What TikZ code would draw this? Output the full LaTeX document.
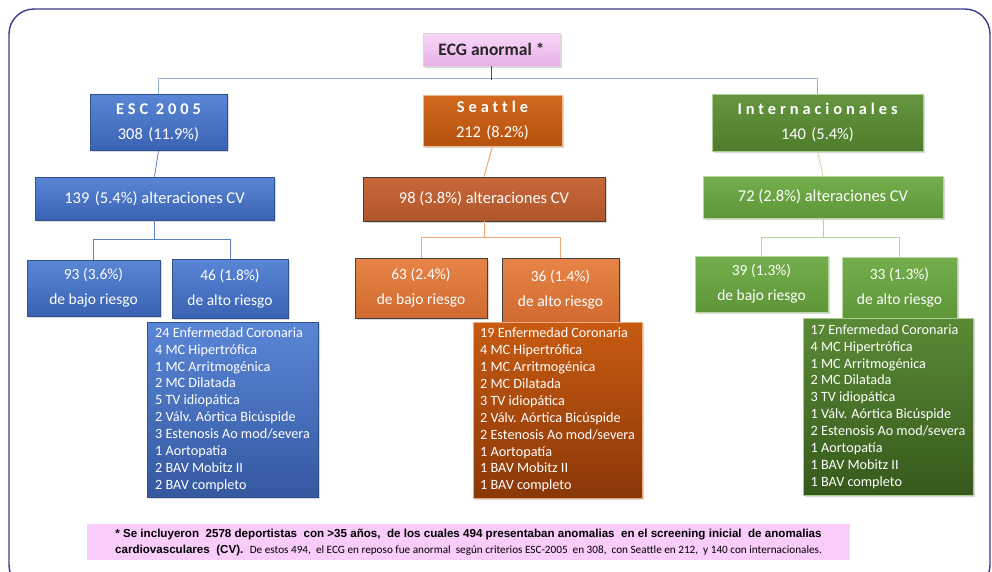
\documentclass[tikz,border=0pt]{standalone}
\usepackage{fontspec}
\setmainfont{Carlito}
\newfontfamily\spacedfont[LetterSpace=24,Ligatures={NoCommon}]{Carlito}
\newfontfamily\footfont{Liberation Sans}
\usetikzlibrary{shadows}
\definecolor{frame}{HTML}{3C3C8C}
\definecolor{pinkA}{HTML}{F8D8F8}
\definecolor{pinkB}{HTML}{E8B0E8}
\definecolor{foot}{HTML}{F9CCF9}
\definecolor{bluA}{HTML}{5A86D6}
\definecolor{bluB}{HTML}{3A62B2}
\definecolor{bluD}{HTML}{2F528F}
\definecolor{bluL}{HTML}{5B7FC7}
\definecolor{topL}{HTML}{9BB0D8}
\definecolor{orA}{HTML}{D2691E}
\definecolor{orB}{HTML}{B5520E}
\definecolor{orC}{HTML}{C8683A}
\definecolor{orC2}{HTML}{B0552A}
\definecolor{orE}{HTML}{E88448}
\definecolor{orE2}{HTML}{D06A30}
\definecolor{orF}{HTML}{C85A12}
\definecolor{orF2}{HTML}{8A3808}
\definecolor{orL}{HTML}{F0A878}
\definecolor{grA}{HTML}{65963F}
\definecolor{grB}{HTML}{4E7C2C}
\definecolor{grC}{HTML}{74AE4C}
\definecolor{grC2}{HTML}{5E9638}
\definecolor{grF}{HTML}{5A8A36}
\definecolor{grF2}{HTML}{36591C}
\definecolor{grL}{HTML}{B5D69A}
\definecolor{grL2}{HTML}{C8E2B6}
\tikzset{
  box/.style={draw, line width=0.8pt, align=center, text=white, inner sep=0pt,
    drop shadow={opacity=0.3, shadow xshift=1.5pt, shadow yshift=-1.5pt}},
  titlefont/.style={font=\fontsize{16.4}{25}\selectfont},
  cvfont/.style={font=\fontsize{16.5}{18}\selectfont},
  riskfont/.style={font=\fontsize{15.5}{25}\selectfont},
  listfont/.style={font=\fontsize{14.2}{16.9}\selectfont, align=left},
  bluebox/.style={box, draw=bluD, top color=bluA, bottom color=bluB},
  bluelist/.style={box, draw=bluD, top color=bluA, bottom color=bluB!90!black},
  orangetitle/.style={box, draw=orE!60!white, top color=orA, bottom color=orB},
  orangecv/.style={box, draw=black!75, top color=orC, bottom color=orC2},
  orangerisk/.style={box, draw=black!75, top color=orE, bottom color=orE2},
  orangelist/.style={box, draw=orE!70!white, top color=orF, bottom color=orF2},
  greentitle/.style={box, draw=grC!60!white, top color=grA, bottom color=grB},
  greencv/.style={box, draw=grC!50!white, top color=grC, bottom color=grC2},
  greenrisk/.style={box, draw=grC!50!white, top color=grC, bottom color=grC2},
  greenlist/.style={box, draw=grC!60!white, top color=grF, bottom color=grF2},
  bline/.style={draw=bluL, line width=0.8pt},
  oline/.style={draw=orL, line width=1pt},
  gline/.style={draw=grL, line width=1pt},
}
\begin{document}
\begin{tikzpicture}[x=1pt,y=-1pt]
\useasboundingbox (0,0) rectangle (992,571);
\clip (0,0) rectangle (992,571);
\fill[white] (0,0) rectangle (992,571);
\draw[frame, line width=1.4pt, rounded corners=25pt] (9,9) rectangle (990,590);

% top
\node[box, draw=pinkB!80!black!40, top color=pinkA, bottom color=pinkB, text=black!85,
  minimum width=137pt, minimum height=33pt, font=\fontsize{17.5}{20}\selectfont\bfseries]
  (ecg) at (491.5,49.5) {ECG anormal *};

% ESC
\node[bluebox, titlefont, minimum width=137pt, minimum height=56pt] (esc) at (158.5,122.5)
  {{\spacedfont\bfseries ESC 2005}\\308\,\,(11.9\%)};
\node[bluebox, cvfont, minimum width=239pt, minimum height=43pt] (esccv) at (154.5,198.5)
  {139\,\,(5.4\%) alteraciones CV};
\node[bluebox, riskfont, minimum width=133pt, minimum height=56pt] (escb) at (93.5,288)
  {93 (3.6\%)\\de bajo riesgo};
\node[bluebox, riskfont, minimum width=116pt, minimum height=59pt] (esca) at (230,288.5)
  {46 (1.8\%)\\de alto riesgo};
\node[bluelist, listfont, minimum width=171pt, minimum height=175pt] (escl) at (232.5,409.5)
  {24 Enfermedad Coronaria\\4 MC Hipertrófica\\1 MC Arritmogénica\\2 MC Dilatada\\5 TV idiopática\\2 Válv. Aórtica Bicúspide\\3 Estenosis Ao mod/severa\\1 Aortopatía\\2 BAV Mobitz II\\2 BAV completo};

% Seattle
\node[orangetitle, titlefont, minimum width=139pt, minimum height=51pt] (sea) at (492.5,120.5)
  {{\spacedfont\bfseries Seattle}\\212\,\,(8.2\%)};
\node[orangecv, cvfont, minimum width=242pt, minimum height=44pt] (seacv) at (484,199)
  {98 (3.8\%) alteraciones CV};
\node[orangerisk, riskfont, minimum width=132pt, minimum height=60pt] (seab) at (421,288)
  {63 (2.4\%)\\de bajo riesgo};
\node[orangerisk, riskfont, minimum width=117pt, minimum height=64pt] (seaa) at (560.5,290)
  {36 (1.4\%)\\de alto riesgo};
\node[orangelist, listfont, minimum width=169pt, minimum height=176pt] (seal) at (557.5,410)
  {19 Enfermedad Coronaria\\4 MC Hipertrófica\\1 MC Arritmogénica\\2 MC Dilatada\\3 TV idiopática\\2 Válv. Aórtica Bicúspide\\2 Estenosis Ao mod/severa\\1 Aortopatía\\1 BAV Mobitz II\\1 BAV completo};

% Internacionales
\node[greentitle, titlefont, minimum width=211pt, minimum height=57pt] (int) at (817.5,122.5)
  {{\spacedfont\bfseries Internacionales}\\140\,\,(5.4\%)};
\node[greencv, cvfont, minimum width=240pt, minimum height=42pt] (intcv) at (823,197)
  {72 (2.8\%) alteraciones CV};
\node[greenrisk, riskfont, minimum width=133pt, minimum height=56pt] (intb) at (761.5,284)
  {39 (1.3\%)\\de bajo riesgo};
\node[greenrisk, riskfont, minimum width=115pt, minimum height=61pt] (inta) at (899.5,287.5)
  {33 (1.3\%)\\de alto riesgo};
\node[greenlist, listfont, minimum width=170pt, minimum height=177pt] (intl) at (888,406.5)
  {17 Enfermedad Coronaria\\4 MC Hipertrófica\\1 MC Arritmogénica\\2 MC Dilatada\\3 TV idiopática\\1 Válv. Aórtica Bicúspide\\2 Estenosis Ao mod/severa\\1 Aortopatía\\1 BAV Mobitz II\\1 BAV completo};

% connectors
\draw[topL, line width=1pt] (esc.north) -- ++(0,-16) -| (int.north);
\draw[bluD, line width=1pt] (ecg.south) -- ++(0,13.5);
\draw[bline] (esc.south) -- (esccv.north);
\draw[bline] (esccv.south) -- ++(0,19) coordinate (ej);
\draw[bline] (escb.north) |- (ej) -| (esca.north);
\draw[oline] (sea.south) -- (seacv.north);
\draw[oline] (seacv.south) -- ++(0,16) coordinate (sj);
\draw[oline] (seab.north) |- (sj) -| (seaa.north);
\draw[draw=grL2, line width=1pt] (int.south) -- (intcv.north);
\draw[gline] (intcv.south) -- ++(0,19) coordinate (ij);
\draw[gline] (intb.north) |- (ij) -| (inta.north);

% footnote
\node[fill=foot, minimum width=763pt, minimum height=36pt, inner sep=0pt, align=center,
  font=\footfont\bfseries\fontsize{11.6}{16}\selectfont] (note) at (468.5,542)
  {* Se incluyeron\ \ 2578 deportistas\ \ con >35 años,\ \ de los cuales 494 presentaban anomalias\ \ en el screening inicial\ \ de anomalias\\
   cardiovasculares\ \ (CV).\ \ {\rmfamily\mdseries\fontsize{11.2}{16}\selectfont De estos 494,\ \ el ECG en reposo fue anormal\ \ según criterios ESC-2005\ \ en 308,\ \ con Seattle en 212,\ \ y 140 con internacionales.}};
\end{tikzpicture}
\end{document}
